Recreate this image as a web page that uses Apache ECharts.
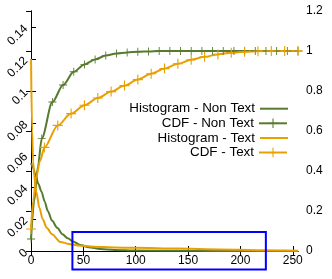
<!DOCTYPE html>
<html><head><meta charset="utf-8">
<script src="https://cdn.jsdelivr.net/npm/echarts@6/dist/echarts.min.js"></script>
<style>html,body{margin:0;padding:0;background:#fff}#c{width:332px;height:279px}</style>
</head><body><div id="c"></div>
<script>
// ---- data ----
const xTicks = [0, 50, 100, 150, 200, 250];
const seriesNames = ['Histogram - Non Text', 'CDF - Non Text', 'Histogram - Text', 'CDF - Text'];

const histNonTextX = [0, 2, 4, 7, 10, 13, 16, 20, 25, 30, 35, 40, 47, 55, 66, 80, 100, 150, 200, 255];
const histNonTextY = [0.055, 0.052, 0.048, 0.042, 0.037, 0.031, 0.025, 0.019, 0.0145, 0.0105, 0.008, 0.006, 0.0038, 0.0024, 0.0013, 0.0007, 0.0003, 0.0001, 0.00005, 0];

const cdfNonTextX = [0, 10.2, 20.4, 30.6, 40.8, 51, 61.2, 71.4, 81.6, 91.8, 102, 112.2, 122.4, 132.6, 142.8, 153, 163.2, 173.4, 183.6, 193.8, 204, 214.2, 224.4, 234.6, 244.8, 255];
const cdfNonTextY = [0.06, 0.563, 0.745, 0.83, 0.896, 0.933, 0.958, 0.977, 0.988, 0.993, 0.996, 0.998, 1, 1, 1, 1, 1, 1, 1, 1, 1, 1, 1, 1, 1, 1];
const cdfNonTextExtraX = [3, 6.5];
const cdfNonTextExtraY = [0.25, 0.42];

const histTextX = [0, 1, 2, 3, 5, 8, 11, 15, 20, 28, 36, 45, 60, 80, 100, 140, 180, 220, 255];
const histTextY = [0.12, 0.075, 0.056, 0.047, 0.037, 0.027, 0.02, 0.0145, 0.0105, 0.0057, 0.0044, 0.0035, 0.0027, 0.0022, 0.002, 0.0015, 0.001, 0.0005, 0.0002];

const cdfTextX = [0, 12.75, 25.5, 38.25, 51, 63.75, 76.5, 89.25, 102, 114.75, 127.5, 140.25, 153, 165.75, 178.5, 191.25, 204, 216.75, 229.5, 242.25, 255];
const cdfTextY = [0.11, 0.518, 0.628, 0.687, 0.729, 0.765, 0.797, 0.827, 0.857, 0.886, 0.912, 0.936, 0.956, 0.971, 0.983, 0.991, 0.996, 0.999, 1, 1, 1];
const cdfTextExtraX = [2, 5, 8.5];
const cdfTextExtraY = [0.25, 0.37, 0.45];

// highlighted region (data coords)
const boxX = [39.5, 224.3];
const boxY = [0.0118, -0.0116];

// ---- styles ----
const GREEN = '#587a2e';
const ORANGE = '#e8a000';
const FONT = 'Liberation Sans';
const PLUS = 'path://M-1,-0.11H1V0.11H-1Z M-0.11,-1H0.11V1H-0.11Z';

function pairs(xs, ys) { return xs.map((x, i) => [x, ys[i]]); }
function withExtras(xs, ys, ex, ey) {
  const pts = xs.map((x, i) => ({ value: [x, ys[i]] }));
  ex.forEach((x, i) => pts.push({ value: [x, ey[i]], symbol: 'none' }));
  pts.sort((a, b) => a.value[0] - b.value[0]);
  return pts;
}

const chart = echarts.init(document.getElementById('c'), null, { renderer: 'canvas' });
const axisText = { color: '#000', fontFamily: FONT, fontSize: 12 };
const tickStyle = { color: '#000', width: 1 };

const legendCenters = [108.7, 123.3, 138, 152.5];
const legendIsHist = [true, false, true, false];

chart.setOption({
  animation: false,
  backgroundColor: '#fff',
  grid: { left: 30, right: 34, top: 11, bottom: 28 },
  xAxis: [{
    type: 'value', min: -1, max: 255, position: 'bottom',
    axisLine: { lineStyle: { color: '#000', width: 1 } },
    axisTick: { inside: true, length: 5, lineStyle: tickStyle, customValues: xTicks },
    axisLabel: Object.assign({ margin: 4, customValues: xTicks }, axisText),
    splitLine: { show: false }
  }, {
    type: 'value', min: -1, max: 255, position: 'top',
    axisLine: { lineStyle: { color: '#000', width: 1 } },
    axisTick: { inside: true, length: 5, lineStyle: tickStyle, customValues: xTicks },
    axisLabel: { show: false },
    splitLine: { show: false }
  }],
  yAxis: [{
    type: 'value', min: 0, max: 0.15, interval: 0.02, position: 'left',
    axisLine: { show: true, lineStyle: { color: '#000', width: 1 } },
    axisTick: { show: true, inside: true, length: 5, lineStyle: tickStyle },
    axisLabel: Object.assign({ rotate: 45, margin: 4, showMaxLabel: false }, axisText),
    splitLine: { show: false }
  }, {
    type: 'value', min: 0, max: 1.2, interval: 0.2, position: 'right',
    axisLine: { show: true, lineStyle: { color: '#000', width: 1 } },
    axisTick: { show: true, inside: true, length: 5, lineStyle: tickStyle },
    axisLabel: Object.assign({ margin: 8, formatter: v => String(Math.round(v * 10) / 10) }, axisText),
    splitLine: { show: false }
  }],
  legend: seriesNames.map((n, i) => ({
    data: [legendIsHist[i] ? { name: n, icon: 'rect' } : { name: n }],
    right: 44, top: legendCenters[i] - 7, orient: 'vertical', align: 'right',
    itemWidth: 28, itemHeight: legendIsHist[i] ? 2 : 12, padding: 0, selectedMode: false,
    textStyle: { color: '#000', fontFamily: FONT, fontSize: 13.4, lineHeight: 14 }
  })),
  series: [{
    name: seriesNames[0], type: 'line', xAxisIndex: 0, yAxisIndex: 0,
    data: pairs(histNonTextX, histNonTextY), showSymbol: false, symbol: 'none',
    smooth: 0.3, smoothMonotone: 'x',
    lineStyle: { color: GREEN, width: 2 }, itemStyle: { color: GREEN }
  }, {
    name: seriesNames[1], type: 'line', xAxisIndex: 0, yAxisIndex: 1,
    data: withExtras(cdfNonTextX, cdfNonTextY, cdfNonTextExtraX, cdfNonTextExtraY),
    symbol: PLUS, symbolSize: 8, showAllSymbol: true,
    smooth: 0.3, smoothMonotone: 'x',
    lineStyle: { color: GREEN, width: 2 }, itemStyle: { color: GREEN, borderWidth: 0 }
  }, {
    name: seriesNames[2], type: 'line', xAxisIndex: 0, yAxisIndex: 0,
    data: pairs(histTextX, histTextY), showSymbol: false, symbol: 'none',
    smooth: 0.3, smoothMonotone: 'x',
    lineStyle: { color: ORANGE, width: 2 }, itemStyle: { color: ORANGE }
  }, {
    name: seriesNames[3], type: 'line', xAxisIndex: 0, yAxisIndex: 1,
    data: withExtras(cdfTextX, cdfTextY, cdfTextExtraX, cdfTextExtraY),
    symbol: PLUS, symbolSize: 10, showAllSymbol: true,
    smooth: 0.3, smoothMonotone: 'x',
    lineStyle: { color: ORANGE, width: 2 }, itemStyle: { color: ORANGE, borderWidth: 0 }
  }]
});

const p1 = chart.convertToPixel({ xAxisIndex: 0, yAxisIndex: 0 }, [boxX[0], boxY[0]]);
const p2 = chart.convertToPixel({ xAxisIndex: 0, yAxisIndex: 0 }, [boxX[1], boxY[1]]);
chart.setOption({
  graphic: [{
    type: 'rect', z: 100,
    shape: { x: p1[0], y: p1[1], width: p2[0] - p1[0], height: p2[1] - p1[1] },
    style: { fill: 'none', stroke: '#0000ff', lineWidth: 2 }
  }]
});
</script></body></html>
